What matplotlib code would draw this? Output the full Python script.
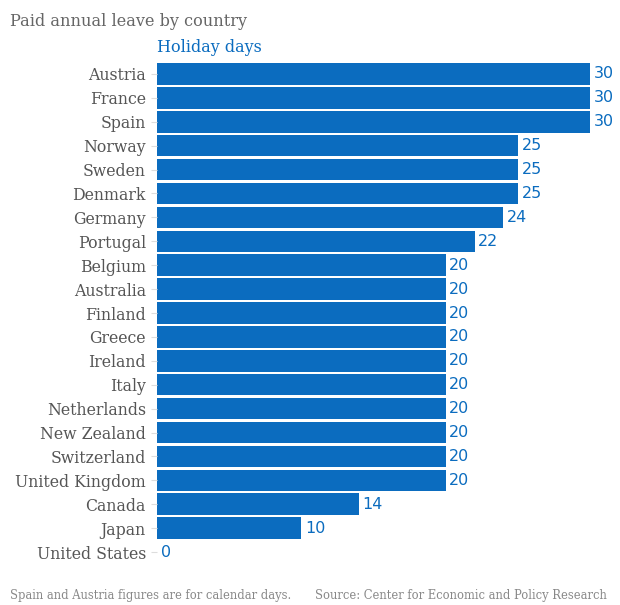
import matplotlib.pyplot as plt

countries = ["Austria", "France", "Spain", "Norway", "Sweden", "Denmark", "Germany",
             "Portugal", "Belgium", "Australia", "Finland", "Greece", "Ireland", "Italy",
             "Netherlands", "New Zealand", "Switzerland", "United Kingdom", "Canada",
             "Japan", "United States"]
days = [30, 30, 30, 25, 25, 25, 24, 22, 20, 20, 20, 20, 20, 20, 20, 20, 20, 20, 14, 10, 0]

blue = "#0b6cbf"
gray = "#666666"

fig = plt.figure(figsize=(6.2, 6.05), dpi=100)
ax = fig.add_axes([157/620, 1-564/605, (590-157)/620, (564-62)/605])

ypos = list(range(len(countries)))
ax.barh(ypos, days, height=0.9, color=blue, edgecolor="none")
for y, v in zip(ypos, days):
    ax.text(v + 0.25, y, str(v), va="center", ha="left", color=blue, fontsize=11.5)

ax.set_xlim(0, 30)
ax.set_ylim(len(countries) - 0.5, -0.5)
ax.set_yticks(ypos)
ax.set_yticklabels(countries, fontsize=11.3, color="#555555", family="DejaVu Serif")
ax.tick_params(axis="y", length=4, color="#dddddd", pad=4)
ax.set_xticks([])
for s in ax.spines.values():
    s.set_visible(False)

fig.text(10/620, 1-21/605, "Paid annual leave by country", fontsize=11.6, color=gray,
         family="DejaVu Serif", va="center", ha="left")
fig.text(157/620, 1-47/605, "Holiday days", fontsize=11.5, color=blue,
         family="DejaVu Serif", va="center", ha="left")
fig.text(10/620, 1-596/605, "Spain and Austria figures are for calendar days.", fontsize=8.3,
         color="#888888", family="DejaVu Serif", va="center", ha="left")
fig.text(607/620, 1-596/605, "Source: Center for Economic and Policy Research", fontsize=8.3,
         color="#888888", family="DejaVu Serif", va="center", ha="right")

fig.savefig("out.png", dpi=100)
